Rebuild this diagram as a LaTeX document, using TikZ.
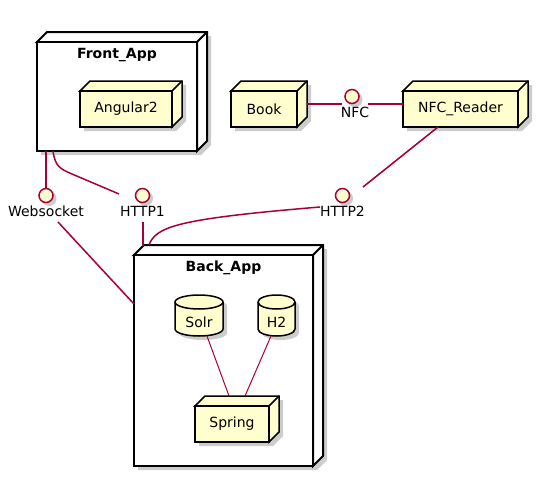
\documentclass[tikz,border=0pt]{standalone}
\usepackage{fontspec}
\setmainfont{DejaVu Sans}
\definecolor{nfill}{HTML}{FEFECE}
\definecolor{crim}{HTML}{A80036}
\tikzset{
  every node/.style={font=\fontsize{14}{16}\selectfont},
  innerbox/.style={draw=black, fill=nfill, line width=1.5pt, inner sep=0pt, outer sep=0pt},
  outerbox/.style={draw=black, fill=white, line width=2pt, inner sep=0pt, outer sep=0pt},
  dbstyle/.style={draw=black, fill=nfill, line width=1.5pt},
  shadowc/.style={fill=black, opacity=0.2},
  iface/.style={circle, draw=crim, fill=nfill, line width=1.5pt, minimum size=14pt, inner sep=0pt, outer sep=0pt},
  ilabel/.style={inner sep=0pt, yshift=-3.5pt},
  title/.style={font=\bfseries\fontsize{14}{16}\selectfont, anchor=north, inner sep=0pt, yshift=-6pt},
  link/.style={draw=crim, line width=1.5pt},
  thinlink/.style={draw=crim, line width=1pt},
}
% #1 name, #2 cx, #3 cy, #4 w, #5 h, #6 style, #7 text, #8 node options
\newcommand\boxthreed[8]{%
  \fill[shadowc] ({#2-#4/2+4},{#3-#5/2+4}) -- ++(10,-10) -- ++(#4,0) -- ++(0,#5) -- ++(-10,10) -- ++(-#4,0) -- cycle;
  \filldraw[#6] ({#2-#4/2},{#3-#5/2}) -- ++(10,-10) -- ++(#4,0) -- ++(0,#5) -- ++(-10,10) -- ++(0,-#5) -- cycle;
  \draw[#6] ({#2+#4/2},{#3-#5/2}) -- ++(10,-10);
  \node[#6, minimum width=#4pt, minimum height=#5pt, #8] (#1) at (#2,#3) {#7};
}
% #1 name, #2 cx, #3 cy, #4 w, #5 h, #6 text
\newcommand\dbnode[6]{%
  \fill[shadowc] ({#2-#4/2+4},{#3-#5/2+7+4}) arc[start angle=180,end angle=0,x radius={#4*0.5pt},y radius=7pt] -- ++(0,{#5-14}) arc[start angle=0,end angle=-180,x radius={#4*0.5pt},y radius=7pt] -- cycle;
  \filldraw[dbstyle] ({#2-#4/2},{#3-#5/2+7}) arc[start angle=180,end angle=0,x radius={#4*0.5pt},y radius=7pt] -- ++(0,{#5-14}) arc[start angle=0,end angle=-180,x radius={#4*0.5pt},y radius=7pt] -- cycle;
  \draw[dbstyle, fill=none] ({#2-#4/2},{#3-#5/2+7}) arc[start angle=180,end angle=360,x radius={#4*0.5pt},y radius=7pt];
  \node[minimum width=#4pt, minimum height=#5pt, inner sep=0pt, outer sep=0pt, label={[inner sep=0pt,yshift=-6.5pt]center:#6}] (#1) at (#2,#3) {};
}
% #1 name, #2 x, #3 y, #4 text, #5 label options
\newcommand\ifacenode[5]{%
  \fill[shadowc] ({#2+3},{#3+3}) circle[radius=7.5pt];
  \node[iface, label={[ilabel,#5]below:#4}] (#1) at (#2,#3) {};
}
\begin{document}
\begin{tikzpicture}[x=1pt,y=-1pt]
\useasboundingbox (0,0) rectangle (549,477);

\boxthreed{front}{117}{96.5}{160}{109}{outerbox}{}{label={[title]north:Front\_App}}
\boxthreed{angular}{126}{109}{92}{36}{innerbox}{Angular2}{}
\boxthreed{book}{264}{109}{66}{36}{innerbox}{Book}{}
\boxthreed{nfcr}{460.5}{109}{115}{36}{innerbox}{NFC\_Reader}{}

\boxthreed{back}{223.5}{360.5}{179}{211}{outerbox}{}{label={[title]north:Back\_App}}
\dbnode{solr}{199}{315.5}{48}{41}{Solr}
\dbnode{h2}{276.5}{315.5}{37}{41}{H2}
\boxthreed{spring}{232}{424}{74}{36}{innerbox}{Spring}{}

\ifacenode{ws}{46}{195.5}{Websocket}{}
\ifacenode{http1}{142.5}{195.5}{HTTP1}{}
\ifacenode{http2}{342.5}{195.5}{HTTP2}{}
\ifacenode{nfc}{352}{96.5}{NFC}{xshift=3pt}

\draw[link] (ws |- front.south) -- (ws);
\draw[link] ([xshift=16pt]front.south west) .. controls (55,166) and (60,169) .. (72,174) -- ([xshift=-23.5pt,yshift=1.5pt]http1.center);
\draw[link] ([xshift=12pt,yshift=-26.5pt]ws.center) -- ([yshift=-49pt]back.north west);
\draw[link] ([xshift=0.5pt,yshift=-26.5pt]http1.center) -- ([xshift=9pt,yshift=9pt]back.north west);
\draw[link] ([xshift=-22.5pt,yshift=-11.5pt]http2.center) .. controls (175,219) and (156,227) .. ([xshift=15pt,yshift=10pt]back.north west);
\draw[link] ([xshift=-22.5pt]nfcr.south) -- ([xshift=20.5pt,yshift=8.5pt]http2.center);
\draw[link] ([xshift=10pt,yshift=5pt]book.east) -- ([xshift=-10pt,yshift=-7.5pt]nfc.center);
\draw[link] ([xshift=16pt,yshift=-7.5pt]nfc.center) -- ([yshift=5pt]nfcr.west);
\draw[thinlink] ([xshift=8pt]solr.south) -- ([xshift=-3pt,yshift=10pt]spring.north);
\draw[thinlink] ([xshift=-5.5pt]h2.south) -- ([xshift=13pt,yshift=10pt]spring.north);
\end{tikzpicture}
\end{document}
